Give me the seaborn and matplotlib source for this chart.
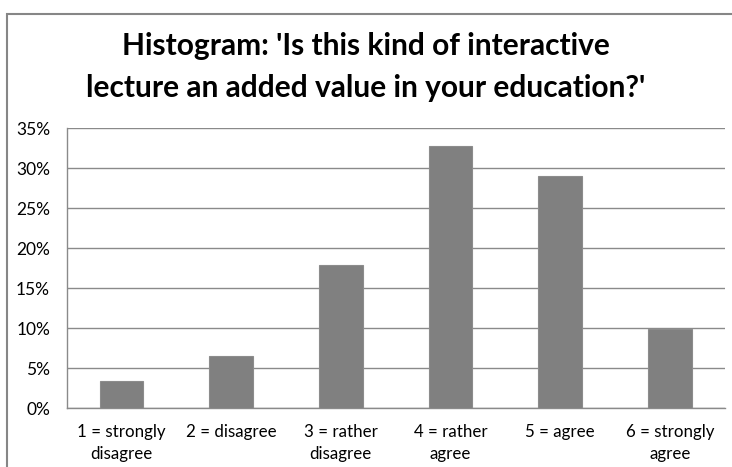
import matplotlib
matplotlib.use("Agg")
import matplotlib.pyplot as plt
import seaborn as sns
import pandas as pd
from matplotlib.patches import Rectangle
from matplotlib.ticker import FuncFormatter, MultipleLocator

categories = ["1 = strongly\ndisagree", "2 = disagree", "3 = rather\ndisagree",
              "4 = rather\nagree", "5 = agree", "6 = strongly\nagree"]
values = [0.0345, 0.066, 0.179, 0.328, 0.291, 0.0995]
title = "Histogram: 'Is this kind of interactive\nlecture an added value in your education?'"

sns.set_theme(style="white")
plt.rcParams['font.family'] = ['Lato', 'DejaVu Sans']

df = pd.DataFrame({"cat": categories, "val": values})

fig = plt.figure(figsize=(7.32, 4.67), dpi=100)
ax = fig.add_axes([66.7/732, (467-408.3)/467, 658/732, 280/467])

sns.barplot(data=df, x="cat", y="val", color="#808080", saturation=1,
            width=0.4, ax=ax, edgecolor="#8c8c8c", linewidth=0.8, zorder=3)

ax.set_ylim(0, 0.35)
ax.set_xlim(-0.5, len(categories) - 0.5)
ax.yaxis.set_major_locator(MultipleLocator(0.05))
ax.yaxis.set_major_formatter(FuncFormatter(lambda v, p: f"{v*100:.0f}%"))
ax.grid(axis="y", color="#8a8a8a", linewidth=1.0, zorder=0)
ax.set_axisbelow(True)
ax.set_xlabel("")
ax.set_ylabel("")
for s in ["top", "right"]:
    ax.spines[s].set_visible(False)
for s in ["left", "bottom"]:
    ax.spines[s].set_color("#8a8a8a")
    ax.spines[s].set_linewidth(1.0)
ax.tick_params(axis="both", length=0, colors="black")
ax.tick_params(axis="y", pad=12, labelsize=12.5)
ax.tick_params(axis="x", pad=11, labelsize=12.2)
for lab in ax.get_xticklabels():
    lab.set_linespacing(1.5)
    lab.set_verticalalignment("top")

fig.text(0.5, 1 - 67/467, title, ha="center", va="center", fontsize=21.5,
         fontweight="bold", linespacing=1.6, color="black")

fig.patches.append(Rectangle((7.5/732, -0.1), 1.2, 1 - 13.5/467 + 0.1,
                             transform=fig.transFigure, fill=False,
                             edgecolor="#868686", linewidth=1.5))

fig.savefig("out.png", dpi=100)
